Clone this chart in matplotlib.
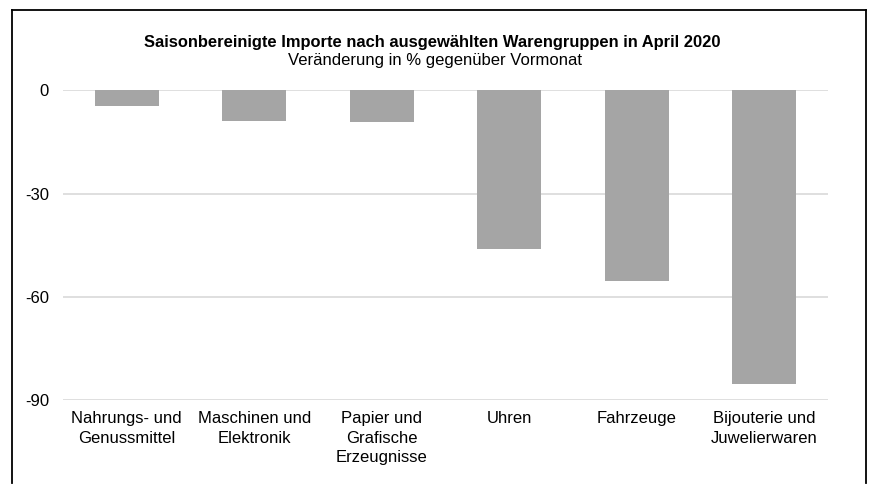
import matplotlib.pyplot as plt
from matplotlib.lines import Line2D
import numpy as np

plt.rcParams["font.family"] = ["Liberation Sans", "DejaVu Sans"]

categories = [
    "Nahrungs- und\nGenussmittel",
    "Maschinen und\nElektronik",
    "Papier und\nGrafische\nErzeugnisse",
    "Uhren",
    "Fahrzeuge",
    "Bijouterie und\nJuwelierwaren",
]
values = [-4.5, -8.9, -9.1, -46.0, -55.3, -85.2]
yticks = [0, -30, -60, -90]

fig = plt.figure(figsize=(8.78, 5.03), dpi=100)
ax = fig.add_axes([63 / 878, 1 - 400.3 / 503, 765 / 878, 310 / 503])

x = np.arange(len(categories))
ax.bar(x, values, width=0.5, color="#A5A5A5", edgecolor="none", zorder=2)

ax.set_xlim(-0.5, len(categories) - 0.5)
ax.set_ylim(-90, 0)
ax.set_yticks(yticks)
ax.set_yticklabels([str(v) for v in yticks])
ax.set_xticks(x)
ax.set_xticklabels(categories, linespacing=1.37)
ax.yaxis.grid(True, color="#D9D9D9", linewidth=1.2, zorder=0)
ax.tick_params(axis="y", length=0, pad=10, labelsize=12)
ax.tick_params(axis="x", length=0, pad=8, labelsize=12)
for s in ax.spines.values():
    s.set_visible(False)

fig.text(432 / 878, 1 - 43 / 503, "Saisonbereinigte Importe nach ausgewählten Warengruppen in April 2020",
         ha="center", va="center", fontsize=11.9, fontweight="bold")
fig.text(435 / 878, 1 - 61 / 503, "Veränderung in % gegenüber Vormonat",
         ha="center", va="center", fontsize=12)

# outer frame (open at the bottom)
H = 503
for xs, ys in [([12, 866], [10, 10]), ([12, 12], [10, 483]), ([866, 866], [10, 483])]:
    fig.add_artist(Line2D([v / 878 for v in xs], [1 - v / H for v in ys],
                          color="black", linewidth=1.3))

fig.savefig("out.png", dpi=100)
